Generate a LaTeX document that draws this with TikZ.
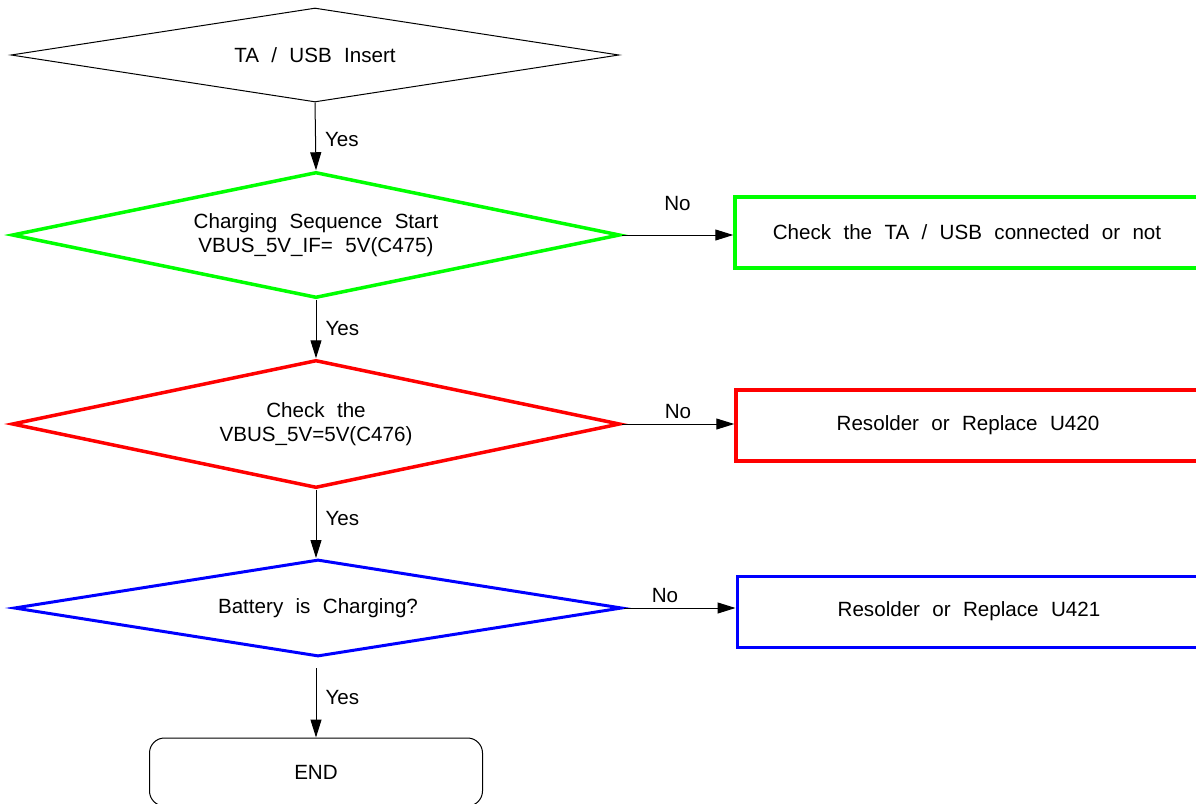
\documentclass[tikz,border=0pt]{standalone}
\usepackage{fontspec}
\setmainfont{Liberation Sans}
\usetikzlibrary{arrows.meta,shapes.geometric}
\definecolor{chkGreen}{HTML}{00FF00}
\definecolor{chkRed}{HTML}{FF0000}
\definecolor{chkBlue}{HTML}{0000FF}
\newcommand{\flowfont}{\fontsize{10.3}{11.75}\selectfont\spaceskip=0.6em plus 0.1em\relax}

\begin{document}
\begin{tikzpicture}[
    x=0.5pt, y=-0.5pt,
    >={Triangle[length=9pt,width=5.5pt]},
    every node/.style={font=\flowfont},
    decision/.style={diamond,draw,aspect=6,inner sep=0pt,align=center,
                     minimum width=304pt},
    action/.style={rectangle,draw,minimum width=232pt,minimum height=35.5pt,
                   inner sep=0pt,align=center},
    arr/.style={->,line width=0.5pt},
    lab/.style={inner sep=0pt}
  ]
  \clip (0,0) rectangle (1196,804);
  % decisions
  \node[decision,line width=0.5pt,minimum height=47pt] (insert) at (315,55) {TA / USB Insert};
  \node[decision,draw=chkGreen,line width=1.75pt,minimum height=63pt] (seq) at (316,235)
    {Charging Sequence Start\\VBUS\_5V\_IF= 5V(C475)};
  \node[decision,draw=chkRed,line width=1.75pt,minimum height=64pt] (vbus) at (316,424)
    {Check the\\VBUS\_5V=5V(C476)};
  \node[decision,draw=chkBlue,line width=1.5pt,minimum height=48.5pt] (batt) at (318,608)
    {Battery is Charging?};

  % actions
  \node[action,draw=chkGreen,line width=1.75pt] (conn) at (967,232.5) {Check the TA / USB connected or not};
  \node[action,draw=chkRed,line width=1.75pt] (u420) at (968,425.5) {Resolder or Replace U420};
  \node[action,draw=chkBlue,line width=1.5pt] (u421) at (969,611.5) {Resolder or Replace U421};
  \node[rectangle,draw,line width=0.5pt,rounded corners=7.5pt,minimum width=166.5pt,
        minimum height=34pt] (done) at (316,772) {END};

  % yes branch
  \draw[arr] (insert.south) -- node[lab,right=4.5pt,pos=0.55] {Yes} (seq.north);
  \draw[arr] (seq.south) -- node[lab,right=4.5pt,pos=0.5] {Yes} (vbus.north);
  \draw[arr] (vbus.south) -- node[lab,right=4.5pt,pos=0.42] {Yes} (batt.north -| vbus.south);
  \draw[arr,shorten <=5pt] (batt.south -| done.north) -- node[lab,right=4.5pt,pos=0.5] {Yes} (done.north);

  % no branch
  \draw[arr] (seq.east) -- node[lab,above=12pt] {No} (seq.east -| conn.west);
  \draw[arr] (vbus.east) -- node[lab,above=2.5pt] {No} (vbus.east -| u420.west);
  \draw[arr] (batt.east) -- node[lab,above=2.5pt,pos=0.37] {No} (batt.east -| u421.west);
\end{tikzpicture}
\end{document}
